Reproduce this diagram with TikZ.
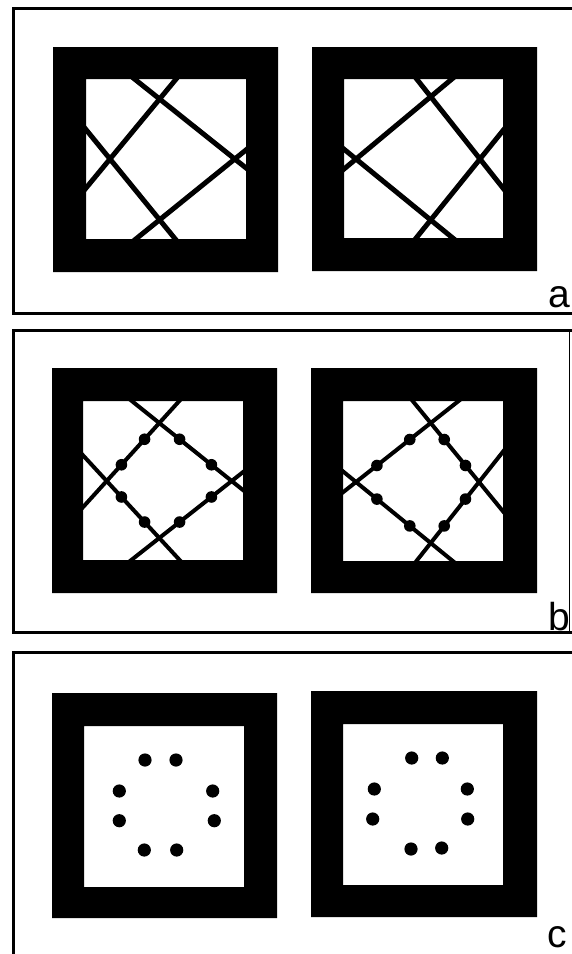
\documentclass[tikz,border=0pt]{standalone}
\usepackage{fontspec}
\setmainfont{Liberation Sans}
\usetikzlibrary{calc}
\tikzset{
  % panel frame (open on the right)
  frm/.style={draw=black, line width=3pt},
  % thick black square ring
  ring/.style={fill=black, even odd rule},
  % crossing lines inside the ring
  xln/.style={draw=black, line width=5pt},
  xlnb/.style={draw=black, line width=4pt},
  dotb/.style={fill=black, radius=5.8pt},
  dotc/.style={fill=black, radius=6.6pt},
  lbl/.style={font=\fontsize{39}{40}\selectfont, inner sep=0pt, anchor=base east}
}

\begin{document}
\begin{tikzpicture}[x=1pt,y=-1pt]
    \useasboundingbox (0,0) rectangle (571,954);

    % ---- frames ----
    \draw[frm] (575,8)   -- (13,8)   -- (13,313) -- (575,313);
    \draw[frm] (575,330) -- (13,330) -- (13,632) -- (575,632);
    \draw[draw=black, line width=1.2pt] (569.5,330) -- (569.5,632);
    \draw[frm] (575,652) -- (13,652) -- (13,960);

    % ---- panel a ----
    \fill[ring] (53,47) rectangle (278,272) (86,79) rectangle (246,239);
    \fill[ring] (312,47) rectangle (537,271) (344,79) rectangle (503,238);
    \coordinate (aT) at (159.6,99);  \coordinate (aL) at (110,159);
    \coordinate (aR) at (234.8,159); \coordinate (aB) at (159.6,219.8);
    \coordinate (AT) at (430.7,96.7); \coordinate (AL) at (356,159);
    \coordinate (AR) at (480,159);    \coordinate (AB) at (430.7,220);
    \begin{scope}
      \clip (86,79) rectangle (246,239);
      \foreach \p/\q in {T/R,T/L,B/L,B/R}
        \draw[xln] ($(a\p)!-1!(a\q)$) -- ($(a\p)!2!(a\q)$);
    \end{scope}
    \begin{scope}
      \clip (344,79) rectangle (503,238);
      \foreach \p/\q in {T/R,T/L,B/L,B/R}
        \draw[xln] ($(A\p)!-1!(A\q)$) -- ($(A\p)!2!(A\q)$);
    \end{scope}
    \node[lbl] (la) at (570,307) {a};

    % ---- panel b: same lines, dots on the inner square ----
    \fill[ring] (52,368) rectangle (277,593) (83,401) rectangle (243,560);
    \fill[ring] (311,368) rectangle (537,593) (343,401) rectangle (503,561);
    \coordinate (bT) at (159.3,423); \coordinate (bL) at (106.7,481);
    \coordinate (bR) at (231.7,481); \coordinate (bB) at (159.3,538);
    \coordinate (BT) at (430.7,423); \coordinate (BL) at (356,482);
    \coordinate (BR) at (479,482);   \coordinate (BB) at (430.7,543);
    \begin{scope}
      \clip (83,401) rectangle (243,560);
      \foreach \p/\q in {T/R,T/L,B/L,B/R}
        \draw[xlnb] ($(b\p)!-1!(b\q)$) -- ($(b\p)!2!(b\q)$);
    \end{scope}
    \begin{scope}
      \clip (343,401) rectangle (503,561);
      \foreach \p/\q in {T/R,T/L,B/L,B/R}
        \draw[xlnb] ($(B\p)!-1!(B\q)$) -- ($(B\p)!2!(B\q)$);
    \end{scope}
    \foreach \s in {b,B}
      \foreach \p/\q in {T/R,T/L,B/L,B/R} {
        \fill[dotb] ($(\s\p)!0.28!(\s\q)$) circle;
        \fill[dotb] ($(\s\p)!0.72!(\s\q)$) circle;
      }
    \node[lbl] (lb) at (570,630) {b};

    % ---- panel c: dots only ----
    \fill[ring] (52,693) rectangle (277,918) (84,726) rectangle (244,887);
    \fill[ring] (311,691) rectangle (537,917) (343,724) rectangle (503,885);
    \foreach \x/\y in {145/760, 176/760, 119.3/791, 212.7/791,
                       119.3/820.7, 214.3/820.7, 144.3/850, 176.7/850}
      \fill[dotc] (\x,\y) circle;
    \foreach \x/\y in {411.7/758, 442.3/758, 374.3/789, 467.3/789,
                       372.7/819, 467.7/819, 411/849, 441.7/848}
      \fill[dotc] (\x,\y) circle;
    \node[lbl] (lc) at (567,947) {c};
\end{tikzpicture}
\end{document}
